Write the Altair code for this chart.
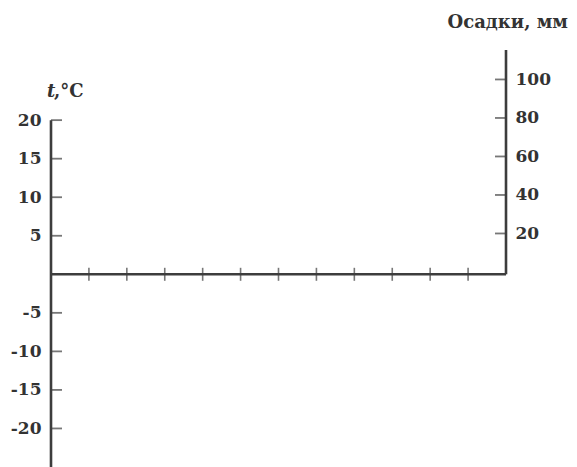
import altair as alt
import pandas as pd

# month boundaries (12 months, ticks on the 11 inner boundaries)
month_ticks = [1, 2, 3, 4, 5, 6, 7, 8, 9, 10, 11]
temp_ticks = [-20, -15, -10, -5, 5, 10, 15, 20]
precip_ticks = [20, 40, 60, 80, 100]

T_MIN, T_MAX = -25, 29.1
P_MIN, P_MAX = -101.3, 115.3

LINE = "#3d3d3d"
TEXT = "#333333"
FONT = "DejaVu Serif"

xs = alt.Scale(domain=[0, 12], nice=False, zero=False)
ys = alt.Scale(domain=[T_MIN, T_MAX], nice=False, zero=False)
ps = alt.Scale(domain=[P_MIN, P_MAX], nice=False, zero=False)

left_axis = alt.Axis(
    orient="left", values=temp_ticks, domain=False, ticks=False, grid=False,
    title=None, labelPadding=10, labelFont=FONT, labelFontSize=17,
    labelFontWeight="bold", labelColor=TEXT, labelExpr="'' + datum.value",
)
right_axis = alt.Axis(
    orient="right", values=precip_ticks, domain=False, ticks=False, grid=False,
    title=None, labelPadding=9, labelFont=FONT, labelFontSize=17,
    labelFontWeight="bold", labelColor=TEXT, labelAlign="left",
)

def ty(field):
    return alt.Y(field, scale=ys, axis=left_axis, title=None)

def tx(field):
    return alt.X(field, scale=xs, axis=None)

left_line = alt.Chart(pd.DataFrame({"x": [0], "y": [T_MIN], "y2": [20]})).mark_rule(
    color=LINE, strokeWidth=2.6
).encode(x=tx("x:Q"), y=ty("y:Q"), y2="y2:Q")

base_line = alt.Chart(pd.DataFrame({"x": [0], "x2": [12], "y": [0]})).mark_rule(
    color=LINE, strokeWidth=2.6
).encode(x=tx("x:Q"), x2="x2:Q", y=ty("y:Q"))

right_line = alt.Chart(pd.DataFrame({"x": [12], "y": [0], "y2": [T_MAX]})).mark_rule(
    color=LINE, strokeWidth=2.6
).encode(x=tx("x:Q"), y=ty("y:Q"), y2="y2:Q")

temp_tick_marks = alt.Chart(pd.DataFrame({"x": [0] * len(temp_ticks), "y": temp_ticks})).mark_tick(
    orient="horizontal", size=11, thickness=1.8, color=LINE, xOffset=5.5
).encode(x=tx("x:Q"), y=ty("y:Q"))

month_tick_marks = alt.Chart(pd.DataFrame({"x": month_ticks, "y": [0] * len(month_ticks)})).mark_tick(
    orient="vertical", size=13, thickness=1.6, color=LINE
).encode(x=tx("x:Q"), y=ty("y:Q"))

t_label = alt.Chart(pd.DataFrame({"x": [0], "y": [23.0], "t": ["t"]})).mark_text(
    font=FONT, fontSize=18, fontStyle="italic", fontWeight="bold", color=TEXT,
    align="left", baseline="alphabetic", dx=-4
).encode(x=tx("x:Q"), y=ty("y:Q"), text="t:N")

c_label = alt.Chart(pd.DataFrame({"x": [0], "y": [23.0], "t": [",°C"]})).mark_text(
    font=FONT, fontSize=18, fontWeight="bold", color=TEXT, align="left",
    baseline="alphabetic", dx=3
).encode(x=tx("x:Q"), y=ty("y:Q"), text="t:N")

p_title = alt.Chart(pd.DataFrame({"x": [12], "y": [31.9], "t": ["Осадки, мм"]})).mark_text(
    font=FONT, fontSize=18, fontWeight="bold", color=TEXT, align="right",
    baseline="alphabetic", dx=62
).encode(x=tx("x:Q"), y=ty("y:Q"), text="t:N")

temp_layer = alt.layer(left_line, base_line, right_line, temp_tick_marks,
                       month_tick_marks, t_label, c_label, p_title)

precip_ticks_marks = alt.Chart(pd.DataFrame({"x": [12] * len(precip_ticks), "p": precip_ticks})).mark_tick(
    orient="horizontal", size=11, thickness=1.8, color=LINE, xOffset=-5.5
).encode(
    x=tx("x:Q"),
    y=alt.Y("p:Q", scale=ps, axis=right_axis, title=None),
)

chart = alt.layer(temp_layer, precip_ticks_marks).resolve_scale(y="independent").properties(
    width=455, height=417,
    autosize=alt.AutoSizeParams(type="none"),
    padding={"left": 43, "top": 42, "right": 63, "bottom": 0},
    background="white",
).configure_view(stroke=None)

chart.save("out.html", embed_options={"renderer": "svg", "actions": False})
